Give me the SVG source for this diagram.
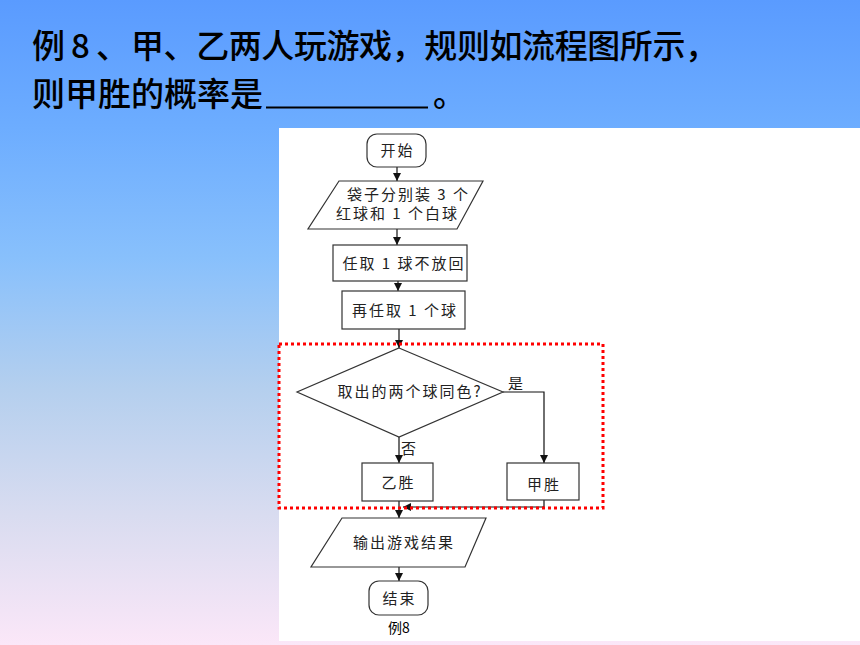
<svg xmlns="http://www.w3.org/2000/svg" width="860" height="645" viewBox="0 0 860 645">
<defs>
<linearGradient id="bg" x1="0" y1="0" x2="0" y2="1">
<stop offset="0" stop-color="#5a9bff"/>
<stop offset="0.2" stop-color="#6dadff"/>
<stop offset="0.4" stop-color="#88c0fc"/>
<stop offset="0.6" stop-color="#b4cfee"/>
<stop offset="0.8" stop-color="#d9dcf0"/>
<stop offset="1" stop-color="#fbe7f8"/>
</linearGradient>
<marker id="ah" viewBox="0 0 10 10" refX="10" refY="5" markerWidth="8" markerHeight="8" markerUnits="userSpaceOnUse" orient="auto">
<path d="M0,0 L10,5 L0,10 z" fill="#111"/>
</marker>
<style>
.t{font-family:"Noto Sans CJK SC","Noto Sans",sans-serif;fill:#000}
.title{font-size:33px;font-weight:500}
.fc{font-size:15px;fill:#222;letter-spacing:2px}
.shape{fill:#fff;stroke:#333;stroke-width:1.2}
.conn{fill:none;stroke:#111;stroke-width:1.2}
</style>
</defs>
<rect x="0" y="0" width="860" height="645" fill="url(#bg)"/>
<rect x="279" y="128" width="581" height="513" fill="#fff"/>

<g id="title">
<text class="t title" y="58"><tspan x="32">例</tspan><tspan x="71">8</tspan><tspan x="96">、</tspan><tspan x="131" textLength="587" lengthAdjust="spacing">甲、乙两人玩游戏，规则如流程图所示，</tspan></text>
<text class="t title" x="32" y="106" textLength="231" lengthAdjust="spacing">则甲胜的概率是</text>
<line x1="266" y1="107.5" x2="428" y2="107.5" stroke="#000" stroke-width="2"/>
<text class="t title" x="433" y="106">。</text>
</g>

<g id="connectors">
<line class="conn" x1="397" y1="167" x2="397" y2="181" marker-end="url(#ah)"/>
<line class="conn" x1="397" y1="229" x2="397" y2="245" marker-end="url(#ah)"/>
<line class="conn" x1="398" y1="281" x2="398" y2="291" marker-end="url(#ah)"/>
<line class="conn" x1="399" y1="329" x2="399" y2="348" marker-end="url(#ah)"/>
<line class="conn" x1="399" y1="437" x2="399" y2="463" marker-end="url(#ah)"/>
<polyline class="conn" points="503,392 544,392 544,463" marker-end="url(#ah)"/>
<line class="conn" x1="399" y1="501" x2="399" y2="518" marker-end="url(#ah)"/>
<polyline class="conn" points="544,500 544,507 403,507" marker-end="url(#ah)"/>
<line class="conn" x1="399" y1="567" x2="399" y2="581" marker-end="url(#ah)"/>
</g>

<g id="n-start">
<rect class="shape" x="367" y="134" width="59" height="33" rx="10"/>
<text class="t fc" x="397.5" y="156" text-anchor="middle">开始</text>
</g>
<g id="n-bag">
<polygon class="shape" points="339,181 483,181 457,229 308,229"/>
<text class="t fc" x="347" y="200">袋子分别装 3 个</text>
<text class="t fc" x="336" y="219">红球和 1 个白球</text>
</g>
<g id="n-take1">
<rect class="shape" x="333" y="245" width="134" height="36"/>
<text class="t fc" x="404" y="269" text-anchor="middle">任取 1 球不放回</text>
</g>
<g id="n-take2">
<rect class="shape" x="342" y="291" width="123" height="38"/>
<text class="t fc" x="405" y="316" text-anchor="middle">再任取 1 个球</text>
</g>
<g id="n-decision">
<polygon class="shape" points="399,348 503,392 399,437 297,392"/>
<text class="t fc" x="410" y="397" text-anchor="middle">取出的两个球同色?</text>
<text class="t fc" x="508" y="389">是</text>
<text class="t fc" x="401" y="454">否</text>
</g>
<g id="n-yi">
<rect class="shape" x="362" y="463" width="71" height="38"/>
<text class="t fc" x="398.5" y="488" text-anchor="middle">乙胜</text>
</g>
<g id="n-jia">
<rect class="shape" x="507" y="463" width="72" height="37"/>
<text class="t fc" x="544" y="490" text-anchor="middle">甲胜</text>
</g>
<g id="n-output">
<polygon class="shape" points="342,518 486,518 465,567 311,567"/>
<text class="t fc" x="404" y="548" text-anchor="middle">输出游戏结果</text>
</g>
<g id="n-end">
<rect class="shape" x="369" y="581" width="59" height="34" rx="10"/>
<text class="t fc" x="399.5" y="604" text-anchor="middle">结束</text>
</g>
<text class="t" x="399" y="633" text-anchor="middle" font-size="14" fill="#333">例8</text>

<rect x="279" y="344" width="324" height="164" fill="none" stroke="#ff0000" stroke-width="3" stroke-dasharray="3,3"/>
</svg>
